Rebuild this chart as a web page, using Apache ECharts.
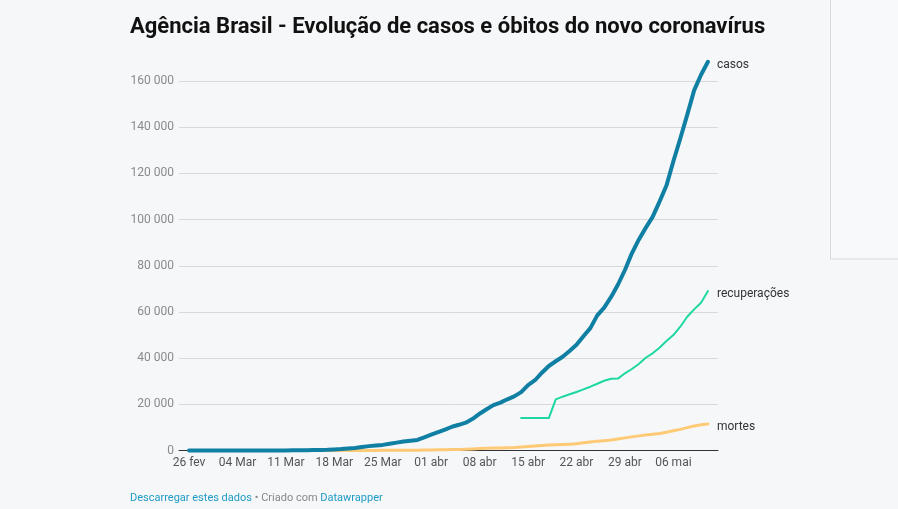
<!DOCTYPE html>
<html>
<head>
<meta charset="utf-8">
<script src="https://cdn.jsdelivr.net/npm/echarts@6/dist/echarts.min.js"></script>
<style>
html,body{margin:0;padding:0;background:#f6f7f9;}
#chart{width:898px;height:509px;}
</style>
</head>
<body>
<div id="chart"></div>
<script>
// Day 0 = 26 fev 2020; one value per day up to 11 mai (day 75)
const casos = [1,1,1,2,2,2,2,3,8,13,19,25,25,34,52,77,98,121,200,234,291,428,621,904,1128,1546,1891,2201,2433,2915,3417,3904,4256,4579,5717,6836,7910,9056,10278,11130,12056,13717,15927,17857,19638,20727,22169,23430,25262,28320,30425,33682,36599,38654,40581,43079,45757,49492,52995,58509,61888,66501,71886,78162,85380,91299,96396,101147,107780,114715,125218,135106,145328,155939,162699,168331];
const mortes = [0,0,0,0,0,0,0,0,0,0,0,0,0,0,0,0,0,0,0,0,1,4,7,11,18,25,34,46,57,77,92,111,136,159,201,240,324,359,445,486,564,686,819,950,1057,1124,1223,1328,1532,1736,1924,2141,2354,2462,2587,2741,2906,3331,3704,4057,4271,4543,5017,5466,5901,6329,6750,7025,7321,7921,8536,9146,9897,10627,11123,11519];
const recStartDay = 48; // 14 abr
const recuperacoes = [14026,14026,14026,14026,14026,22130,23300,24330,25330,26480,27630,28920,30200,31100,31140,33420,35280,37450,40170,42070,44510,47400,50000,53600,57920,61120,64000,69050];
const xTickDays = [0,7,14,21,28,35,42,49,56,63,70];
const xTickLabels = ['26 fev','04 Mar','11 Mar','18 Mar','25 Mar','01 abr','08 abr','15 abr','22 abr','29 abr','06 mai'];
const seriesNames = ['casos','recuperações','mortes'];

const chart = echarts.init(document.getElementById('chart'));
const fmt = v => String(v).replace(/\B(?=(\d{3})+(?!\d))/g, ' ');
const endLbl = {show:true, formatter: p => p.seriesName, color:'#333', fontSize:12, fontFamily:'Roboto', distance:9, offset:[0,3]};

chart.setOption({
  animation:false,
  backgroundColor:'#f6f7f9',
  textStyle:{fontFamily:'Roboto'},
  title:[
    {text:'Agência Brasil - Evolução de casos e óbitos do novo coronavírus', left:130, top:16, padding:0,
     textStyle:{fontFamily:'Roboto', fontWeight:'bold', fontSize:22, color:'#111'}},
    {text:'{a|Descarregar estes dados}{b| • Criado com }{a|Datawrapper}', left:130, top:493, padding:0,
     textStyle:{fontWeight:'normal', rich:{a:{color:'#1d9bc4', fontSize:11, fontWeight:'normal', fontFamily:'Roboto'}, b:{color:'#888', fontSize:11, fontWeight:'normal', fontFamily:'Roboto'}}}}
  ],
  graphic:[{type:'rect', shape:{x:830.5, y:-2, width:80, height:261}, style:{fill:'#f8f9fb', stroke:'#d9d9d9', lineWidth:1}, z:-1}],
  grid:{left:179, right:180, top:81, bottom:58.5},
  xAxis:{
    type:'value', min:-1.45, max:76.45,
    axisLine:{show:true, lineStyle:{color:'#333', width:1}},
    axisTick:{show:false},
    splitLine:{show:false},
    axisLabel:{customValues:xTickDays, formatter: v => xTickLabels[xTickDays.indexOf(v)] || '', color:'#555', fontSize:12, margin:6, fontFamily:'Roboto'}
  },
  yAxis:{
    type:'value', min:0, max:160000, interval:20000,
    axisLine:{show:false}, axisTick:{show:false},
    splitLine:{lineStyle:{color:'#d9d9d9', width:1}},
    axisLabel:{formatter: fmt, color:'#8a8a8a', fontSize:12, margin:5, fontFamily:'Roboto'}
  },
  series:[
    {name:seriesNames[2], type:'line', showSymbol:false, clip:false, data: mortes.map((v,i)=>[i,v]),
     lineStyle:{color:'#ffca76', width:3, cap:'round', join:'round'}, itemStyle:{color:'#ffca76'}, endLabel:endLbl, z:2},
    {name:seriesNames[1], type:'line', showSymbol:false, clip:false, data: recuperacoes.map((v,i)=>[i+recStartDay,v]),
     lineStyle:{color:'#1ed8a2', width:2, cap:'round', join:'round'}, itemStyle:{color:'#1ed8a2'}, endLabel:endLbl, z:3},
    {name:seriesNames[0], type:'line', showSymbol:false, clip:false, data: casos.map((v,i)=>[i,v]),
     lineStyle:{color:'#0f7fa3', width:4, cap:'round', join:'round'}, itemStyle:{color:'#0f7fa3'}, endLabel:endLbl, z:4}
  ]
});
</script>
</body>
</html>
